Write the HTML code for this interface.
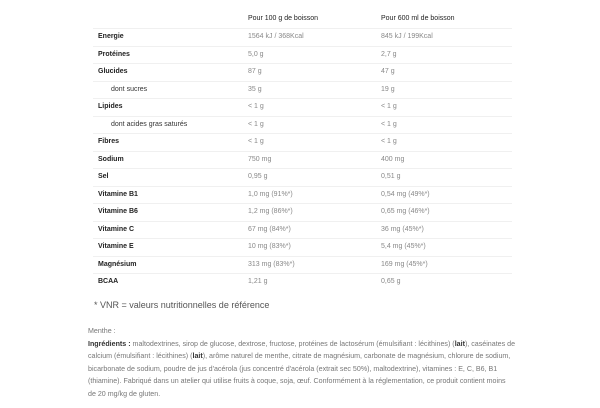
<!DOCTYPE html>
<html><head><meta charset="utf-8"><style>
body{margin:0;width:600px;height:408px;background:#fff;font-family:"Liberation Sans",sans-serif;position:relative;overflow:hidden}
.r{position:absolute;left:93px;width:419px;height:17.5px;border-bottom:1px solid #f0f0f0;font-size:7px;line-height:17.5px;color:#222}
.r span{position:absolute}
.a{left:5px;font-weight:bold}
.i{left:18px;font-weight:normal;color:#333}
.b{left:155px;color:#888}
.c{left:288px;color:#888}
.h span{color:#222;font-weight:normal}
.note{position:absolute;left:94px;top:300px;font-size:9px;color:#555}
.ing{position:absolute;left:88px;top:325px;width:460px;font-size:7.1px;line-height:12.6px;color:#777;white-space:nowrap}
.ing b{color:#333}
</style></head><body>
<div class="r h" style="top:10px"><span class="b">Pour 100 g de boisson</span><span class="c">Pour 600 ml de boisson</span></div>
<div class="r" style="top:28px"><span class="a">Energie</span><span class="b">1564 kJ / 368Kcal</span><span class="c">845 kJ / 199Kcal</span></div>
<div class="r" style="top:45.5px"><span class="a">Protéines</span><span class="b">5,0 g</span><span class="c">2,7 g</span></div>
<div class="r" style="top:63px"><span class="a">Glucides</span><span class="b">87 g</span><span class="c">47 g</span></div>
<div class="r" style="top:80.5px"><span class="i">dont sucres</span><span class="b">35 g</span><span class="c">19 g</span></div>
<div class="r" style="top:98px"><span class="a">Lipides</span><span class="b">&lt; 1 g</span><span class="c">&lt; 1 g</span></div>
<div class="r" style="top:115.5px"><span class="i">dont acides gras saturés</span><span class="b">&lt; 1 g</span><span class="c">&lt; 1 g</span></div>
<div class="r" style="top:133px"><span class="a">Fibres</span><span class="b">&lt; 1 g</span><span class="c">&lt; 1 g</span></div>
<div class="r" style="top:150.5px"><span class="a">Sodium</span><span class="b">750 mg</span><span class="c">400 mg</span></div>
<div class="r" style="top:168px"><span class="a">Sel</span><span class="b">0,95 g</span><span class="c">0,51 g</span></div>
<div class="r" style="top:185.5px"><span class="a">Vitamine B1</span><span class="b">1,0 mg (91%*)</span><span class="c">0,54 mg (49%*)</span></div>
<div class="r" style="top:203px"><span class="a">Vitamine B6</span><span class="b">1,2 mg (86%*)</span><span class="c">0,65 mg (46%*)</span></div>
<div class="r" style="top:220.5px"><span class="a">Vitamine C</span><span class="b">67 mg (84%*)</span><span class="c">36 mg (45%*)</span></div>
<div class="r" style="top:238px"><span class="a">Vitamine E</span><span class="b">10 mg (83%*)</span><span class="c">5,4 mg (45%*)</span></div>
<div class="r" style="top:255.5px"><span class="a">Magnésium</span><span class="b">313 mg (83%*)</span><span class="c">169 mg (45%*)</span></div>
<div class="r" style="top:273px;border-bottom:none"><span class="a">BCAA</span><span class="b">1,21 g</span><span class="c">0,65 g</span></div>
<div class="note">* VNR = valeurs nutritionnelles de référence</div>
<div class="ing">Menthe :<br><b>Ingrédients :</b> maltodextrines, sirop de glucose, dextrose, fructose, protéines de lactosérum (émulsifiant : lécithines) (<b>lait</b>), caséinates de<br>calcium (émulsifiant : lécithines) (<b>lait</b>), arôme naturel de menthe, citrate de magnésium, carbonate de magnésium, chlorure de sodium,<br>bicarbonate de sodium, poudre de jus d'acérola (jus concentré d'acérola (extrait sec 50%), maltodextrine), vitamines : E, C, B6, B1<br>(thiamine). Fabriqué dans un atelier qui utilise fruits à coque, soja, œuf. Conformément à la réglementation, ce produit contient moins<br>de 20 mg/kg de gluten.</div>
</body></html>
